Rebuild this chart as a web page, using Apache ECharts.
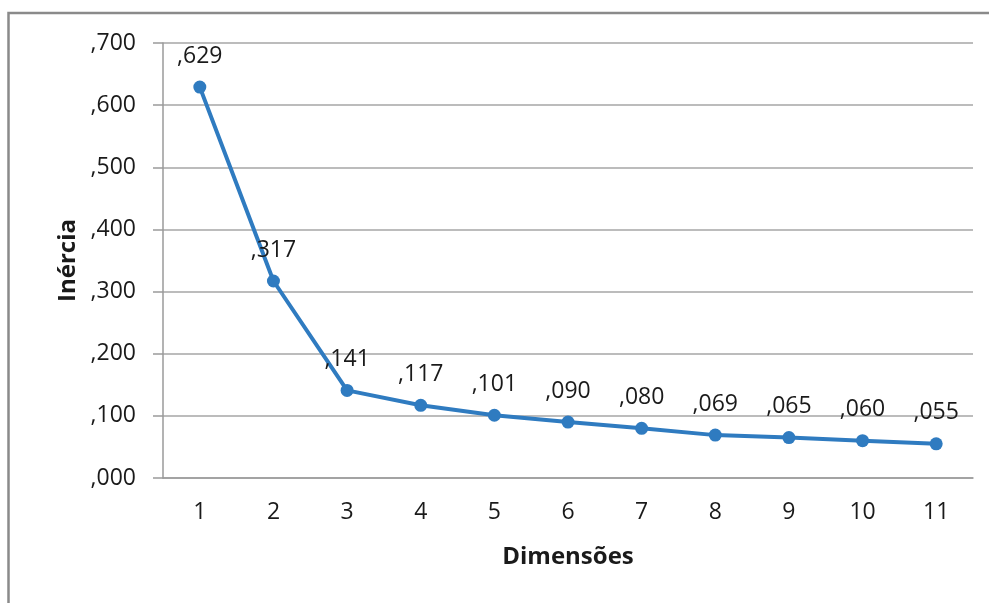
<!DOCTYPE html>
<html>
<head>
<meta charset="utf-8">
<script src="https://cdn.jsdelivr.net/npm/echarts@6/dist/echarts.min.js"></script>
<style>
  html, body { margin: 0; padding: 0; background: #fff; }
  #chart { width: 989px; height: 603px; }
</style>
</head>
<body>
<div id="chart"></div>
<script>
// Inertia per dimension (scree plot)
const dimensions = ['1', '2', '3', '4', '5', '6', '7', '8', '9', '10', '11'];
const inertia = [0.629, 0.317, 0.141, 0.117, 0.101, 0.090, 0.080, 0.069, 0.065, 0.060, 0.055];
const yTicks = [0, 0.1, 0.2, 0.3, 0.4, 0.5, 0.6, 0.7];

// Portuguese-style decimal: ,629
function fmt(v) {
  return ',' + v.toFixed(3).split('.')[1];
}

const font = '"Open Sans", "Noto Sans", sans-serif';
const chart = echarts.init(document.getElementById('chart'));

chart.setOption({
  animation: false,
  backgroundColor: '#ffffff',
  textStyle: { fontFamily: font },
  graphic: [{
    type: 'rect',
    shape: { x: 8.5, y: 13, width: 1100, height: 800 },
    style: { fill: 'none', stroke: '#8a8a8a', lineWidth: 2.5 },
    silent: true
  }],
  grid: { left: 163, right: 16, top: 43, bottom: 125, containLabel: false },
  xAxis: {
    type: 'category',
    data: dimensions,
    boundaryGap: true,
    name: 'Dimensões',
    nameLocation: 'middle',
    nameGap: 67,
    nameTextStyle: { fontFamily: font, fontSize: 24, fontWeight: 'bold', color: '#1a1a1a' },
    axisLine: { show: true, lineStyle: { color: '#9a9a9a', width: 1.5 } },
    axisTick: { show: false },
    axisLabel: { fontFamily: font, fontSize: 23, color: '#1a1a1a', margin: 23 },
    splitLine: { show: false }
  },
  yAxis: {
    type: 'value',
    min: yTicks[0],
    max: yTicks[yTicks.length - 1],
    interval: 0.1,
    name: 'Inércia',
    nameLocation: 'middle',
    nameGap: 82,
    nameRotate: 90,
    nameTextStyle: { fontFamily: font, fontSize: 24, fontWeight: 'bold', color: '#1a1a1a' },
    axisLine: { show: true, lineStyle: { color: '#9a9a9a', width: 1.5 } },
    axisTick: { show: true, length: 10, inside: false, lineStyle: { color: '#9a9a9a', width: 1.5 } },
    axisLabel: { fontFamily: font, fontSize: 23, color: '#1a1a1a', margin: 27, formatter: v => fmt(v) },
    splitLine: { show: true, lineStyle: { color: '#a6a6a6', width: 1.5 } }
  },
  series: [{
    type: 'line',
    data: inertia,
    symbol: 'circle',
    symbolSize: 13,
    lineStyle: { color: '#2f7bc0', width: 4 },
    itemStyle: { color: '#2f7bc0' },
    label: {
      show: true,
      position: 'top',
      distance: 13,
      fontFamily: font,
      fontSize: 23,
      color: '#1a1a1a',
      formatter: p => fmt(p.value)
    }
  }]
});
</script>
</body>
</html>
